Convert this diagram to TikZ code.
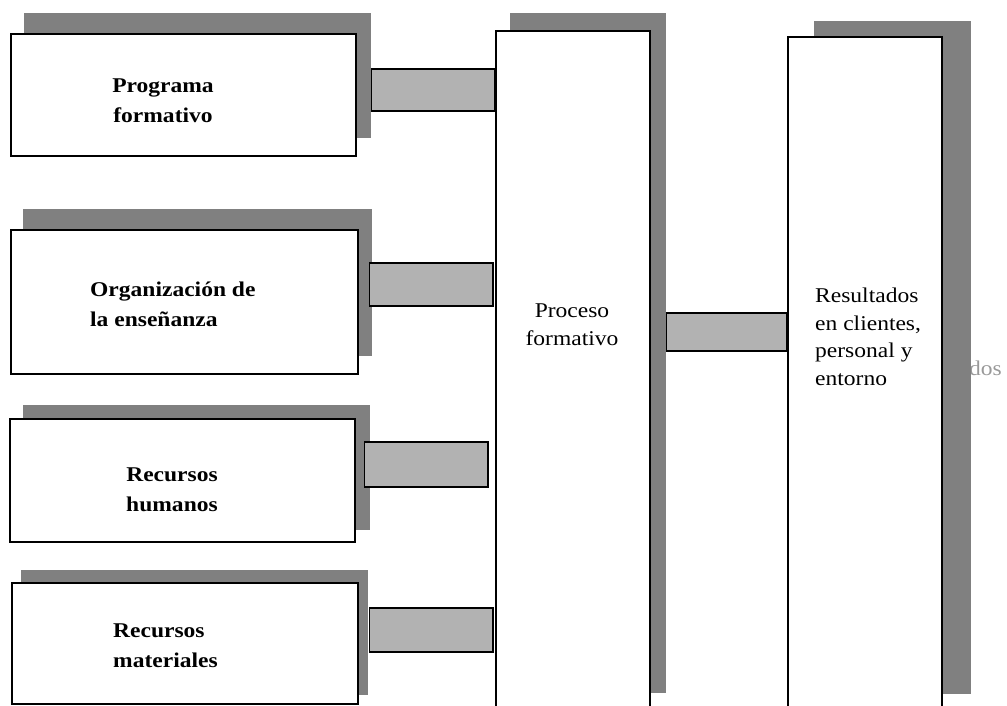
\documentclass[tikz,border=0pt]{standalone}
\usepackage{fontspec}
\setmainfont{Liberation Serif}[FakeStretch=1.12]
\usepackage{tikz}
\usetikzlibrary{positioning}
\definecolor{backgray}{HTML}{808080}
\definecolor{linkgray}{HTML}{B2B2B2}
\definecolor{faintgray}{HTML}{999999}
\tikzset{x=1pt,y=-1pt}
\tikzset{
    backdrop/.style={fill=backgray,inner sep=0pt,anchor=north west},
    box/.style={draw,line width=2.3pt,fill=white,inner sep=0pt,anchor=north west},
    link/.style={draw,line width=1.5pt,fill=linkgray},
    boldtext/.style={font=\fontsize{21}{30}\selectfont\bfseries,inner sep=0pt},
    plaintext/.style={font=\fontsize{21}{27.5}\selectfont,inner sep=0pt}
}

\begin{document}
\begin{tikzpicture}
    \useasboundingbox (0,0) rectangle (1007,705);
    \clip (0,0) rectangle (1007,705);

    % entradas
    \node[backdrop,minimum width=347pt,minimum height=125pt] (s1) at (24,13) {};
    \node[box,minimum width=345pt,minimum height=122pt] (b1) at (10,33) {};
    \node[boldtext,align=center,anchor=north] (t1) at (163,79) {Programa\\formativo};

    \node[backdrop,minimum width=349pt,minimum height=147pt] (s2) at (23,209) {};
    \node[box,minimum width=347pt,minimum height=144pt] (b2) at (10,229) {};
    \node[boldtext,align=left,anchor=north west] (t2) at (90,282) {Organización de\\la enseñanza};

    \node[backdrop,minimum width=347pt,minimum height=125pt] (s3) at (23,405) {};
    \node[box,minimum width=345pt,minimum height=123pt] (b3) at (9,418) {};
    \node[boldtext,align=center,anchor=north] (t3) at (172,468) {Recursos\\humanos};

    \node[backdrop,minimum width=347pt,minimum height=125pt] (s4) at (21,570) {};
    \node[box,minimum width=346pt,minimum height=121pt] (b4) at (11,582) {};
    \node[boldtext,align=left,anchor=north west] (t4) at (113,624) {Recursos\\materiales};

    % proceso
    \node[backdrop,minimum width=156pt,minimum height=680pt] (sp) at (510,13) {};
    \node[box,minimum width=154pt,minimum height=700pt] (proc) at (495,30) {};
    \node[plaintext,align=center,anchor=north] (tp) at (572,304) {Proceso\\formativo};

    % resultados
    \node[plaintext,text=faintgray,anchor=base west] (trail) at (969,375) {dos};
    \node[backdrop,minimum width=157pt,minimum height=673pt] (sr) at (814,21) {};
    \node[box,minimum width=154pt,minimum height=700pt] (res) at (787,36) {};
    \node[plaintext,align=left,anchor=north west] (tr) at (815,288)
        {Resultados\\en clientes,\\personal y\\entorno};

    % enlaces
    \draw[link] (s1.east |- 0,69) rectangle (proc.west |- 0,111);
    \draw[link] ([xshift=10pt]b2.east |- 0,263) rectangle ([xshift=-2pt]proc.west |- 0,306);
    \draw[link] ([xshift=8pt]b3.east |- 0,442) rectangle ([xshift=-7pt]proc.west |- 0,487);
    \draw[link] ([xshift=10pt]b4.east |- 0,608) rectangle ([xshift=-2pt]proc.west |- 0,652);
    \draw[link] (sp.east |- 0,313) rectangle (res.west |- 0,351);
\end{tikzpicture}
\end{document}
